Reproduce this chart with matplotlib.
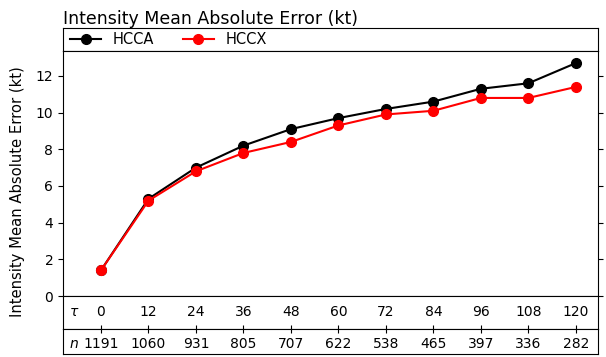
import matplotlib
matplotlib.use("Agg")
import matplotlib.pyplot as plt

# forecast lead times (h), sample sizes and mean absolute errors (kt)
tau = [0, 12, 24, 36, 48, 60, 72, 84, 96, 108, 120]
n_cases = [1191, 1060, 931, 805, 707, 622, 538, 465, 397, 336, 282]
hcca = [1.4, 5.3, 7.0, 8.2, 9.1, 9.7, 10.2, 10.6, 11.3, 11.6, 12.7]
hccx = [1.4, 5.2, 6.8, 7.8, 8.4, 9.3, 9.9, 10.1, 10.8, 10.8, 11.4]
yticks = [0, 2, 4, 6, 8, 10, 12]

W, H = 606, 357
fig = plt.figure(figsize=(W / 100, H / 100), dpi=100)


def rect(top, bottom):
    return [63 / W, (H - bottom) / H, 535 / W, (bottom - top) / H]


ax_leg = fig.add_axes(rect(28, 51))
ax = fig.add_axes(rect(51, 296))
ax_tau = fig.add_axes(rect(296, 329))
ax_n = fig.add_axes(rect(329, 354))

xlim = (-9.6, 125.6)
for a in (ax_leg, ax, ax_tau, ax_n):
    a.set_xlim(*xlim)
    a.set_xticks([])
    a.set_yticks([])

# main panel
ax.plot(tau, hcca, "o-", color="black", lw=1.5, ms=7, label="HCCA")
ax.plot(tau, hccx, "o-", color="red", lw=1.5, ms=7, label="HCCX")
ax.set_ylim(0, 13.36)
ax.set_yticks(yticks)
ax.tick_params(axis="y", left=True, right=True, labelsize=10)

# legend strip + title
handles, labels = ax.get_legend_handles_labels()
ax_leg.legend(handles, labels, loc="center left", ncol=2, frameon=False,
              fontsize=10.5, borderaxespad=0.1, handlelength=2.1)
ax_leg.set_title("Intensity Mean Absolute Error (kt)", loc="left",
                 fontsize=12.5, pad=3)

# tau / n table rows
row_fs = 10
ax_tau.text(0.011, 0.5, r"$\tau$", transform=ax_tau.transAxes,
            ha="left", va="center", fontsize=row_fs)
for t in tau:
    ax_tau.text(t, 0.5, str(t), transform=ax_tau.get_xaxis_transform(),
                ha="center", va="center", fontsize=row_fs)

ax_n.set_xticks(tau)
ax_n.tick_params(axis="x", top=True, bottom=False, labelbottom=False,
                 direction="inout", length=6)
ax_n.text(0.011, 0.38, r"$n$", transform=ax_n.transAxes,
          ha="left", va="center", fontsize=row_fs)
for t, c in zip(tau, n_cases):
    ax_n.text(t, 0.38, str(c), transform=ax_n.get_xaxis_transform(),
              ha="center", va="center", fontsize=row_fs)

fig.text(18 / W, (H - 191.5) / H, "Intensity Mean Absolute Error (kt)",
         rotation=90, ha="center", va="center", fontsize=10.6)

fig.savefig("out.png", dpi=100)
